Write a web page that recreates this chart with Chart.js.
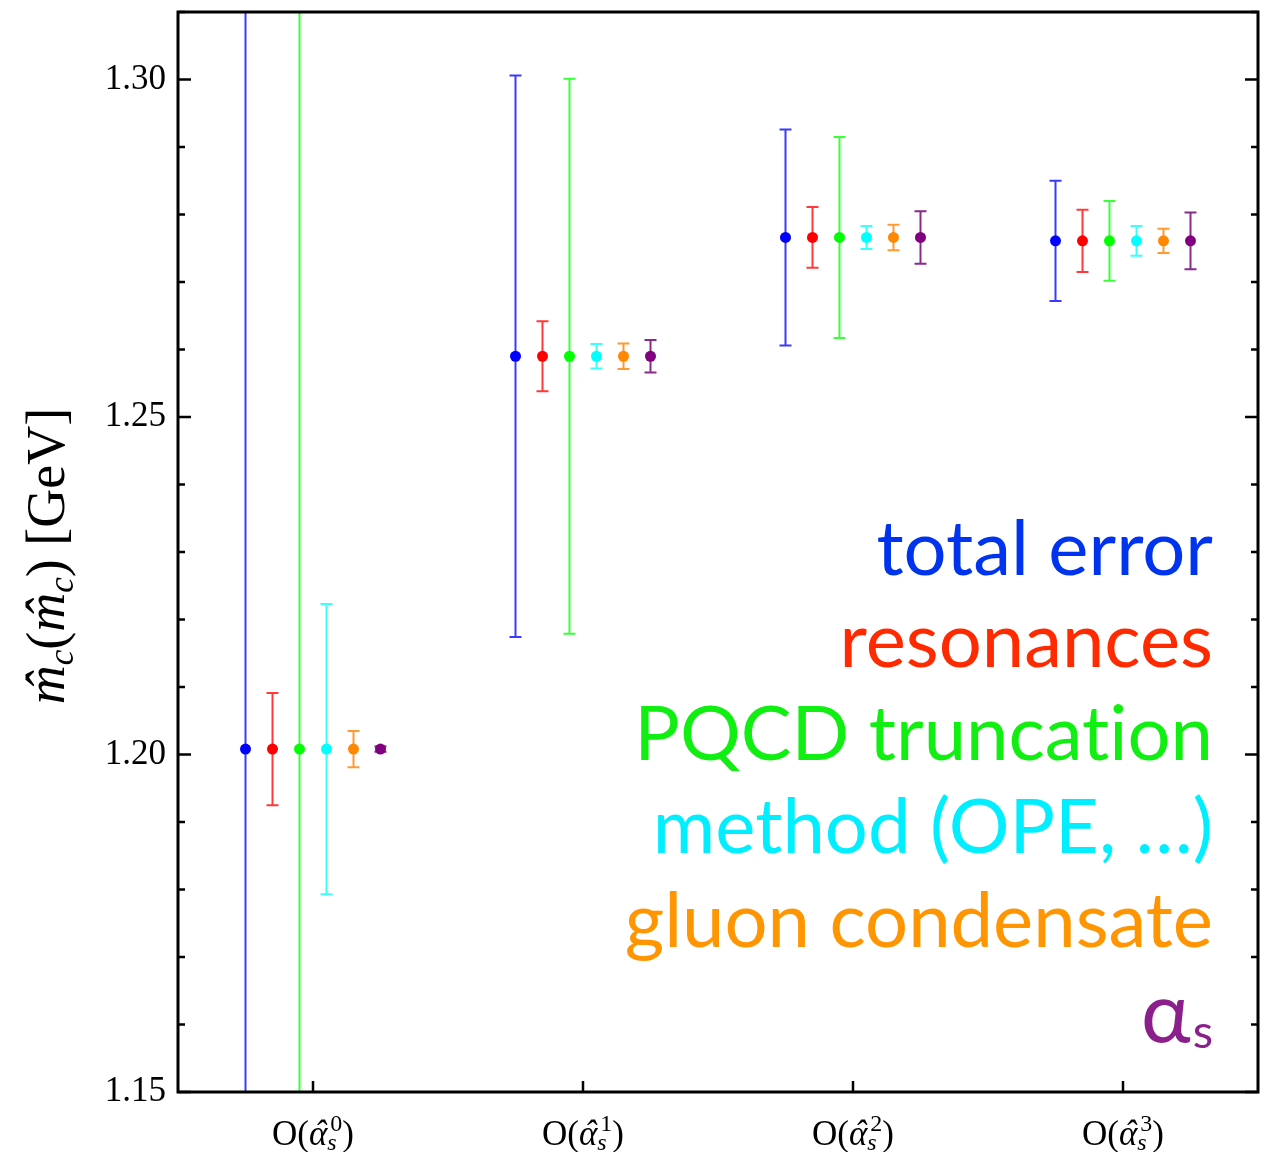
<!DOCTYPE html>
<html>
<head>
<meta charset="utf-8">
<script src="https://cdn.jsdelivr.net/npm/chart.js@4.4.1/dist/chart.umd.min.js"></script>
<style>
  html, body { margin: 0; padding: 0; background: #fff; }
  #wrap { width: 1271px; height: 1152px; }
</style>
</head>
<body>
<div id="wrap"><canvas id="c" width="1271" height="1152"></canvas></div>
<script>
// perturbative order of each determination, O(alpha_s^n)
const orders = ['0', '1', '2', '3'];
const central = [1.2008, 1.2590, 1.2766, 1.2761];

// symmetric half-widths of each error source (GeV)
const errTotal = [0.123, 0.0416, 0.0160, 0.0089];
const errResonances = [0.0083, 0.0052, 0.0045, 0.0046];
const errTruncation = [0.120, 0.0411, 0.0149, 0.0059];
const errMethod = [0.0215, 0.0018, 0.0017, 0.0022];
const errCondensate = [0.0027, 0.0019, 0.0019, 0.0018];
const errAlphaS = [0.0004, 0.0024, 0.0039, 0.0042];

const yTickValues = [1.15, 1.16, 1.17, 1.18, 1.19, 1.20, 1.21, 1.22, 1.23, 1.24, 1.25,
  1.26, 1.27, 1.28, 1.29, 1.30, 1.31];
const yTickLabels = ['1.15', '1.20', '1.25', '1.30'];

const series = [
  { label: 'total error', err: errTotal, dot: '#0000ff', bar: '#3a3aff', text: '#0033ee' },
  { label: 'resonances', err: errResonances, dot: '#ff0000', bar: '#ff3a3a', text: '#ff2a00' },
  { label: 'PQCD truncation', err: errTruncation, dot: '#00ff00', bar: '#3aff3a', text: '#11ee11' },
  { label: 'method (OPE, \u2026)', err: errMethod, dot: '#00ffff', bar: '#3affff', text: '#00eeff' },
  { label: 'gluon condensate', err: errCondensate, dot: '#ff8800', bar: '#ff9a33', text: '#ff9500' },
  { label: '\u03b1s', err: errAlphaS, dot: '#800080', bar: '#8a2a8a', text: '#8b1f8b' }
];
const offsets = [-0.25, -0.15, -0.05, 0.05, 0.15, 0.25];

const SERIF = '"Liberation Serif", "DejaVu Serif", serif';
const SANS = 'Lato, "Open Sans", sans-serif';

function roundedKey(v) { return (Math.round(v * 100) / 100).toFixed(2); }

const errorBars = {
  id: 'errorBars',
  beforeDatasetsDraw(chart) {
    const { ctx, chartArea: a, scales: { x, y } } = chart;
    ctx.save();
    ctx.beginPath();
    ctx.rect(a.left, a.top, a.right - a.left, a.bottom - a.top);
    ctx.clip();
    chart.data.datasets.forEach((ds) => {
      ctx.strokeStyle = ds.barColor;
      ctx.lineWidth = 2;
      ds.data.forEach((p) => {
        const px = x.getPixelForValue(p.x);
        const top = y.getPixelForValue(p.y + p.e);
        const bot = y.getPixelForValue(p.y - p.e);
        ctx.beginPath();
        ctx.moveTo(px, top); ctx.lineTo(px, bot);
        ctx.moveTo(px - 6, top); ctx.lineTo(px + 6, top);
        ctx.moveTo(px - 6, bot); ctx.lineTo(px + 6, bot);
        ctx.stroke();
      });
    });
    ctx.restore();
  }
};

function drawHatted(ctx, ch, x, base, font, hatShift) {
  ctx.font = font;
  const w = ctx.measureText(ch).width;
  ctx.fillText(ch, x, base);
  const hw = ctx.measureText('\u02c6').width;
  ctx.fillText('\u02c6', x + w / 2 - hw / 2 + hatShift, base);
  return w;
}

const decorations = {
  id: 'decorations',
  afterDraw(chart) {
    const { ctx, chartArea: a, scales: { x, y } } = chart;
    ctx.save();
    // frame
    ctx.strokeStyle = '#000';
    ctx.lineWidth = 3;
    ctx.strokeRect(a.left, a.top, a.right - a.left, a.bottom - a.top);
    // y ticks, inward on both sides
    ctx.lineWidth = 2.5;
    y.ticks.forEach((t) => {
      const py = y.getPixelForValue(t.value);
      const len = yTickLabels.includes(roundedKey(t.value)) ? 13 : 7;
      ctx.beginPath();
      ctx.moveTo(a.left, py); ctx.lineTo(a.left + len, py);
      ctx.moveTo(a.right, py); ctx.lineTo(a.right - len, py);
      ctx.stroke();
    });
    // x ticks + labels O(alpha_s^n)
    x.ticks.forEach((t, i) => {
      const px = x.getPixelForValue(t.value);
      ctx.beginPath();
      ctx.moveTo(px, a.bottom); ctx.lineTo(px, a.bottom - 11);
      ctx.stroke();

      const base = 1145;
      const big = '35px ' + SERIF, bigIt = 'italic 35px ' + SERIF;
      const small = '24px ' + SERIF, smallIt = 'italic 24px ' + SERIF;
      ctx.font = big;
      const wO = ctx.measureText('O(').width;
      ctx.font = bigIt;
      const wA = ctx.measureText('\u03b1').width;
      ctx.font = small;
      const wSup = ctx.measureText(orders[i]).width;
      ctx.font = smallIt;
      const wSub = ctx.measureText('s').width;
      const wS = Math.max(wSup, wSub) + 3;
      ctx.font = big;
      const wP = ctx.measureText(')').width;
      let cx = px - (wO + wA + wS + wP) / 2;
      ctx.fillStyle = '#000';
      ctx.textAlign = 'left';
      ctx.textBaseline = 'alphabetic';
      ctx.font = big;
      ctx.fillText('O(', cx, base); cx += wO;
      drawHatted(ctx, '\u03b1', cx, base, bigIt, 2); cx += wA;
      ctx.font = small;
      ctx.fillText(orders[i], cx + 3, base - 14);
      ctx.font = smallIt;
      ctx.fillText('s', cx, base + 5);
      cx += wS;
      ctx.font = big;
      ctx.fillText(')', cx, base);
    });

    // y axis title, rotated
    ctx.save();
    ctx.translate(64, 556);
    ctx.rotate(-Math.PI / 2);
    const tf = 'italic 54px ' + SERIF, tr = '54px ' + SERIF, ts = 'italic 35px ' + SERIF;
    const parts = [
      ['m', tf, 0, true], ['c', ts, 9, false], ['(', tr, 0, false],
      ['m', tf, 0, true], ['c', ts, 9, false], [')', tr, 0, false], [' [GeV]', tr, 0, false]
    ];
    let total = 0;
    parts.forEach((p) => { ctx.font = p[1]; total += ctx.measureText(p[0]).width; });
    let tx = -total / 2;
    ctx.fillStyle = '#000';
    parts.forEach((p) => {
      ctx.font = p[1];
      if (p[3]) {
        tx += drawHatted(ctx, p[0], tx, p[2], p[1], 3);
      } else {
        ctx.fillText(p[0], tx, p[2]);
        tx += ctx.measureText(p[0]).width;
      }
    });
    ctx.restore();

    // colour key, right aligned inside plot
    ctx.font = '100px ' + SANS;
    const size = 100 * 580 / ctx.measureText('PQCD trunca\u200ction').width;
    const baselines = [575, 667, 760, 853, 947, 1042];
    const right = 1213;
    ctx.textAlign = 'right';
    series.forEach((s, i) => {
      ctx.fillStyle = s.text;
      if (s.label === '\u03b1s') {
        ctx.font = Math.round(size * 0.62) + 'px ' + SANS;
        const ws = ctx.measureText('s').width;
        ctx.fillText('s', right, baselines[i] + 6);
        ctx.font = Math.round(size * 1.1) + 'px ' + SANS;
        ctx.fillText('\u03b1', right - ws - 2, baselines[i]);
      } else {
        ctx.font = Math.round(size) + 'px ' + SANS;
        ctx.fillText(s.label.replace('ti', 't\u200ci'), right, baselines[i]);
      }
    });
    ctx.restore();
  }
};

new Chart(document.getElementById('c'), {
  type: 'scatter',
  data: {
    datasets: series.map((s, k) => ({
      label: s.label,
      data: central.map((c, i) => ({ x: i + 1 + offsets[k], y: c, e: s.err[i] })),
      backgroundColor: s.dot,
      borderColor: s.dot,
      borderWidth: 0,
      pointRadius: 5.5,
      pointHoverRadius: 5.5,
      barColor: s.bar
    }))
  },
  options: {
    responsive: false,
    animation: false,
    devicePixelRatio: 1,
    layout: { padding: { top: 12, right: 13, left: 0, bottom: 0 } },
    plugins: { legend: { display: false }, tooltip: { enabled: false } },
    scales: {
      x: {
        type: 'linear',
        min: 0.5,
        max: 4.5,
        afterBuildTicks: (s) => { s.ticks = orders.map((o, i) => ({ value: i + 1 })); },
        afterFit: (s) => { s.height = 60; s.paddingLeft = 0; s.paddingRight = 0; },
        ticks: { display: false },
        grid: { display: false },
        border: { display: false }
      },
      y: {
        min: 1.15,
        max: 1.31,
        afterBuildTicks: (s) => { s.ticks = yTickValues.map((v) => ({ value: v })); },
        afterFit: (s) => { s.width = 178; s.paddingTop = 0; s.paddingBottom = 0; },
        ticks: {
          padding: 12,
          color: '#000',
          font: { family: SERIF, size: 35 },
          callback: (v) => (yTickLabels.includes(roundedKey(v)) ? roundedKey(v) : '')
        },
        grid: { display: false, drawTicks: false },
        border: { display: false }
      }
    }
  },
  plugins: [errorBars, decorations]
});
</script>
</body>
</html>
